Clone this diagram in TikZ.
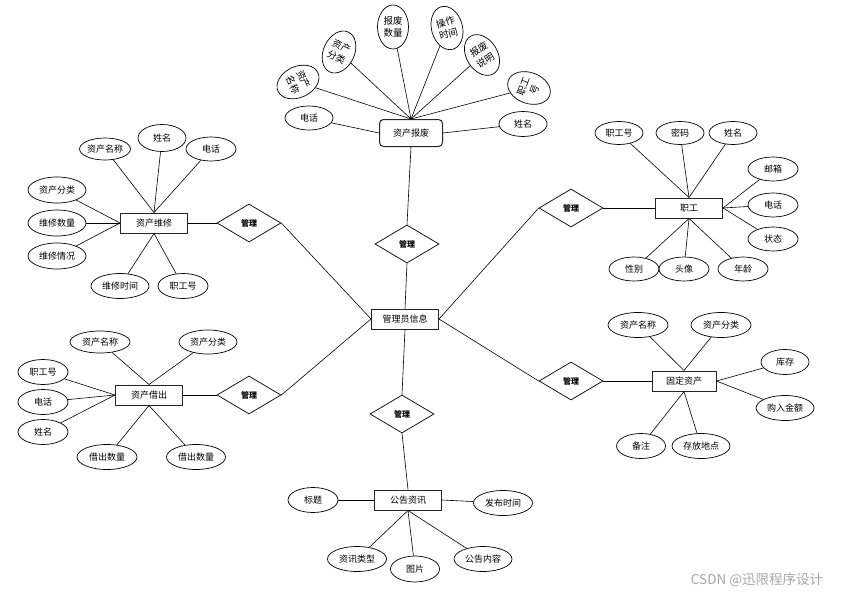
\documentclass[tikz,border=0pt]{standalone}
\usepackage{fontspec}
\setmainfont{Noto Sans CJK SC}
\usetikzlibrary{shapes.geometric}
\begin{document}
\begin{tikzpicture}[x=1pt,y=-1pt,
 ent/.style={draw=black!85, line width=1pt, minimum width=67pt, minimum height=20pt, inner sep=0pt, font=\fontsize{9}{10}\selectfont},
 attr/.style={draw, ellipse, line width=0.7pt, minimum width=50pt, minimum height=24pt, inner sep=0pt, font=\fontsize{9}{10}\selectfont},
 wattr/.style={attr, minimum width=59pt, minimum height=25pt},
 vattr/.style={draw, ellipse, line width=0.7pt, minimum width=31pt, minimum height=44pt, inner sep=0pt, align=center, font=\fontsize{9.5}{12}\selectfont},
 rel/.style={draw, diamond, minimum width=64pt, minimum height=38pt, inner sep=0pt, line width=0.7pt, font=\fontsize{8}{9}\selectfont\bfseries},
 conn/.style={line width=0.6pt}
]
\useasboundingbox (0,0) rectangle (842,597);

% ---- 资产报废 ----
\node[ent, rounded corners=4pt, minimum width=63pt, minimum height=27pt] (bf) at (411,133) {资产报废};
\node[vattr, rotate=-65] (bf1) at (298,82) {资产\\名称};
\node[vattr, rotate=-25] (bf2) at (339,52) {资产\\分类};
\node[vattr] (bf3) at (393,27) {报废\\数量};
\node[vattr, rotate=15] (bf4) at (447,28) {操作\\时间};
\node[vattr, rotate=32] (bf5) at (482,55) {报废\\说明};
\node[vattr, rotate=70] (bf6) at (529,88) {职工\\号};
\node[attr, minimum width=48pt] (bf7) at (309,118) {电话};
\node[attr, minimum width=48pt, minimum height=25pt] (bf8) at (523,124) {姓名};
\foreach \n in {bf1,bf2,bf3,bf4,bf5,bf6} \draw[conn] (bf.north) -- (\n);
\draw[conn] (bf.west) -- (bf7);
\draw[conn] (bf.east) -- (bf8);

% ---- center ----
\node[ent] (mg) at (405,319) {管理员信息};
\node[rel] (r1) at (407,244) {管理};
\node[rel] (r2) at (249,223) {管理};
\node[rel] (r3) at (249,395) {管理};
\node[rel] (r4) at (571,208) {管理};
\node[rel] (r5) at (571,381) {管理};
\node[rel] (r6) at (402,414) {管理};

% ---- 资产维修 ----
\node[ent] (wx) at (154,223) {资产维修};
\node[attr, minimum width=49pt, minimum height=22pt] (wx1) at (105,149) {资产名称};
\node[attr, minimum width=48pt, minimum height=27pt] (wx2) at (162,138) {姓名};
\node[attr] (wx3) at (211,149) {电话};
\node[wattr, minimum width=58pt, minimum height=26pt] (wx4) at (57,190) {资产分类};
\node[wattr, minimum width=58pt, minimum height=26pt] (wx5) at (57,223) {维修数量};
\node[wattr, minimum width=58pt, minimum height=26pt] (wx6) at (57,256) {维修情况};
\node[wattr, minimum width=58pt] (wx7) at (120,286) {维修时间};
\node[attr, minimum height=25pt] (wx8) at (183,286) {职工号};
\foreach \n in {wx1,wx2,wx3} \draw[conn] (wx.north) -- (\n);
\foreach \n in {wx4,wx5,wx6} \draw[conn] (wx.west) -- (\n);
\foreach \n in {wx7,wx8} \draw[conn] (wx.south) -- (\n);

% ---- 职工 ----
\node[ent] (zg) at (689,208) {职工};
\node[attr, minimum width=48pt, minimum height=23pt] (zg1) at (619,133) {职工号};
\node[attr, minimum width=48pt, minimum height=23pt] (zg2) at (680,133) {密码};
\node[attr, minimum width=48pt, minimum height=23pt] (zg3) at (733,133) {姓名};
\node[attr] (zg4) at (773,169) {邮箱};
\node[attr] (zg5) at (773,205) {电话};
\node[attr] (zg6) at (773,239) {状态};
\node[attr] (zg7) at (634,269) {性别};
\node[attr] (zg8) at (684,269) {头像};
\node[attr] (zg9) at (743,269) {年龄};
\foreach \n in {zg1,zg2,zg3} \draw[conn] (zg.north) -- (\n);
\foreach \n in {zg4,zg5,zg6} \draw[conn] (zg.east) -- (\n);
\foreach \n in {zg7,zg8,zg9} \draw[conn] (zg.south) -- (\n);

% ---- 资产借出 ----
\node[ent] (jc) at (149,395) {资产借出};
\node[wattr, minimum width=60pt, minimum height=22pt] (jc1) at (100,342) {资产名称};
\node[wattr, minimum width=58pt, minimum height=24pt] (jc2) at (208,342) {资产分类};
\node[attr, minimum height=25pt] (jc3) at (43,372) {职工号};
\node[attr, minimum height=25pt] (jc4) at (43,402) {电话};
\node[attr, minimum height=25pt] (jc5) at (43,432) {姓名};
\node[wattr, minimum width=60pt] (jc6) at (107,457) {借出数量};
\node[wattr] (jc7) at (196,457) {借出数量};
\foreach \n in {jc1,jc2} \draw[conn] (jc.north) -- (\n);
\foreach \n in {jc3,jc4,jc5} \draw[conn] (jc.west) -- (\n);
\foreach \n in {jc6,jc7} \draw[conn] (jc.south) -- (\n);

% ---- 固定资产 ----
\node[ent, minimum width=64pt] (gd) at (684,381) {固定资产};
\node[wattr, minimum width=60pt] (gd1) at (638,325) {资产名称};
\node[wattr, minimum width=60pt] (gd2) at (721,325) {资产分类};
\node[attr, minimum width=48pt, minimum height=25pt] (gd3) at (785,362) {库存};
\node[wattr, minimum width=58pt] (gd4) at (785,408) {购入金额};
\node[attr, minimum width=49pt, minimum height=25pt] (gd5) at (641,446) {备注};
\node[wattr, minimum width=58pt] (gd6) at (701,446) {存放地点};
\foreach \n in {gd1,gd2} \draw[conn] (gd.north) -- (\n);
\foreach \n in {gd3,gd4} \draw[conn] (gd.east) -- (\n);
\foreach \n in {gd5,gd6} \draw[conn] (gd.south) -- (\n);

% ---- 公告资讯 ----
\node[ent] (gg) at (408,500) {公告资讯};
\node[attr, minimum height=25pt] (gg1) at (313,500) {标题};
\node[wattr] (gg2) at (503,503) {发布时间};
\node[wattr] (gg3) at (357,559) {资讯类型};
\node[attr, minimum width=49pt, minimum height=26pt] (gg4) at (415,569) {图片};
\node[wattr, minimum width=58pt] (gg5) at (483,559) {公告内容};
\draw[conn] (gg.west) -- (gg1);
\draw[conn] (gg.east) -- (gg2);
\foreach \n in {gg3,gg4,gg5} \draw[conn] (gg.south) -- (\n);

% ---- relationship links ----
\draw[conn] (mg.north) -- (r1.south);
\draw[conn] (r1.north) -- (bf.south);
\draw[conn] (mg.west) -- (r2.east);
\draw[conn] (r2.west) -- (wx.east);
\draw[conn] (mg.west) -- (r3.east);
\draw[conn] (r3.west) -- (jc.east);
\draw[conn] (mg.east) -- (r4.west);
\draw[conn] (r4.east) -- (zg.west);
\draw[conn] (mg.east) -- (r5.west);
\draw[conn] (r5.east) -- (gd.west);
\draw[conn] (mg.south) -- (r6.north);
\draw[conn] (r6.south) -- (gg.north);

% ---- watermark ----
\node[text=black!35, font=\fontsize{13.5}{14}\selectfont, inner sep=0pt] (wm) at (757,580) {CSDN @迅限程序设计};
\end{tikzpicture}
\end{document}
